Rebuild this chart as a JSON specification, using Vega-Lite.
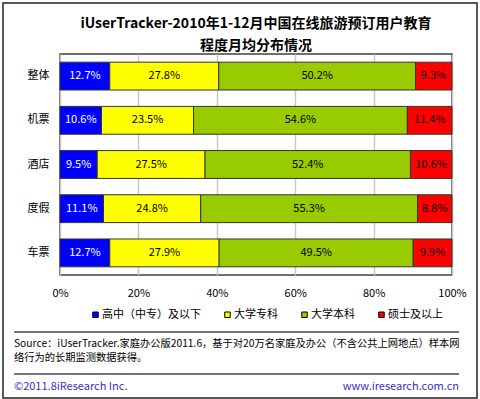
{
  "$schema": "https://vega.github.io/schema/vega-lite/v6.json",
  "padding": {"left": 2, "top": 2, "right": 0, "bottom": 0},
  "columns": 1,
  "bounds": "flush",
  "spacing": 57,
  "resolve": {"scale": {"color": "independent"}, "legend": {"color": "independent"}},
  "config": {
    "font": "Noto Sans CJK SC",
    "view": {"stroke": null}
  },
  "datasets": {
    "edu": [
      {"cat": "整体", "level": "高中（中专）及以下", "rank": 1, "value": 0.127},
      {"cat": "整体", "level": "大学专科", "rank": 2, "value": 0.278},
      {"cat": "整体", "level": "大学本科", "rank": 3, "value": 0.502},
      {"cat": "整体", "level": "硕士及以上", "rank": 4, "value": 0.093},
      {"cat": "机票", "level": "高中（中专）及以下", "rank": 1, "value": 0.106},
      {"cat": "机票", "level": "大学专科", "rank": 2, "value": 0.235},
      {"cat": "机票", "level": "大学本科", "rank": 3, "value": 0.546},
      {"cat": "机票", "level": "硕士及以上", "rank": 4, "value": 0.114},
      {"cat": "酒店", "level": "高中（中专）及以下", "rank": 1, "value": 0.095},
      {"cat": "酒店", "level": "大学专科", "rank": 2, "value": 0.275},
      {"cat": "酒店", "level": "大学本科", "rank": 3, "value": 0.524},
      {"cat": "酒店", "level": "硕士及以上", "rank": 4, "value": 0.106},
      {"cat": "度假", "level": "高中（中专）及以下", "rank": 1, "value": 0.111},
      {"cat": "度假", "level": "大学专科", "rank": 2, "value": 0.248},
      {"cat": "度假", "level": "大学本科", "rank": 3, "value": 0.553},
      {"cat": "度假", "level": "硕士及以上", "rank": 4, "value": 0.088},
      {"cat": "车票", "level": "高中（中专）及以下", "rank": 1, "value": 0.127},
      {"cat": "车票", "level": "大学专科", "rank": 2, "value": 0.279},
      {"cat": "车票", "level": "大学本科", "rank": 3, "value": 0.495},
      {"cat": "车票", "level": "硕士及以上", "rank": 4, "value": 0.099}
    ],
    "foot": [
      {"part": "source", "text": ["Source：iUserTracker.家庭办公版2011.6，基于对20万名家庭及办公（不含公共上网地点）样本网", "络行为的长期监测数据获得。"]},
      {"part": "copyright", "text": "©2011.8iResearch Inc."},
      {"part": "site", "text": "www.iresearch.com.cn"}
    ]
  },
  "concat": [
    {
      "title": {
        "text": ["iUserTracker-2010年1-12月中国在线旅游预订用户教育", "程度月均分布情况"],
        "fontSize": 14,
        "fontWeight": "bold",
        "lineHeight": 22,
        "offset": 1,
        "color": "#000"
      },
      "width": 392,
      "height": 221,
      "view": {"stroke": "#404040", "strokeWidth": 1.5},
      "data": {"name": "edu"},
      "encoding": {
        "y": {
          "field": "cat",
          "type": "nominal",
          "sort": ["整体", "机票", "酒店", "度假", "车票"],
          "scale": {"paddingInner": 0.37, "paddingOuter": 0.185},
          "axis": {"title": null, "ticks": false, "domain": false, "labelFontSize": 11, "labelPadding": 11, "labelColor": "#000"}
        }
      },
      "layer": [
        {
          "mark": {"type": "bar", "stroke": "#333", "strokeWidth": 1},
          "encoding": {
            "x": {
              "field": "value",
              "type": "quantitative",
              "stack": "normalize",
              "scale": {"domain": [0, 1]},
              "axis": {"title": null, "format": "%", "values": [0, 0.2, 0.4, 0.6, 0.8, 1], "ticks": false, "domain": false, "grid": true, "gridColor": "#c8c8c8", "gridWidth": 1.5, "labelFontSize": 11, "labelPadding": 12, "labelColor": "#000", "labelFlush": false}
            },
            "color": {
              "field": "level",
              "type": "nominal",
              "sort": ["高中（中专）及以下", "大学专科", "大学本科", "硕士及以上"],
              "scale": {"domain": ["高中（中专）及以下", "大学专科", "大学本科", "硕士及以上"], "range": ["#0000FF", "#FFFF00", "#99CC00", "#FF0000"]},
              "legend": {"title": null, "orient": "none", "legendX": 30, "legendY": 255, "direction": "horizontal", "symbolType": "square", "symbolSize": 30, "symbolStrokeColor": "#000", "symbolStrokeWidth": 1, "labelFontSize": 11, "labelColor": "#000", "columnPadding": 21, "labelOffset": 1}
            },
            "order": {"field": "rank", "type": "quantitative"}
          }
        },
        {
          "mark": {"type": "text", "fontSize": 11},
          "encoding": {
            "x": {"field": "value", "type": "quantitative", "stack": "normalize", "bandPosition": 0.5},
            "detail": {"field": "level"},
            "order": {"field": "rank", "type": "quantitative"},
            "text": {"field": "value", "type": "quantitative", "format": ".1%"},
            "color": {"condition": {"test": "datum.rank === 1", "value": "#ffffff"}, "value": "#000000"}
          }
        }
      ]
    },
    {
      "width": 399,
      "height": 62,
      "data": {"name": "foot"},
      "layer": [
        {
          "mark": {"type": "rect", "fill": null, "stroke": "#222", "strokeWidth": 1.5},
          "transform": [{"filter": "datum.part === 'site'"}],
          "encoding": {"x": {"value": -57}, "x2": {"value": 417}, "y": {"value": -329}, "y2": {"value": 66}}
        },
        {
          "mark": {"type": "rule", "stroke": "#444", "strokeWidth": 1.5},
          "transform": [{"filter": "datum.part === 'source'"}],
          "encoding": {"x": {"value": -46}, "x2": {"value": "width"}, "y": {"value": 0}}
        },
        {
          "mark": {"type": "rule", "stroke": "#444", "strokeWidth": 1.5},
          "transform": [{"filter": "datum.part === 'copyright'"}],
          "encoding": {"x": {"value": -46}, "x2": {"value": "width"}, "y": {"value": 42}}
        },
        {
          "mark": {"type": "text", "align": "left", "baseline": "middle", "fontSize": 10.25, "lineHeight": 14, "color": "#000"},
          "transform": [{"filter": "datum.part === 'source'"}],
          "encoding": {"x": {"value": -46}, "y": {"value": 12}, "text": {"field": "text"}}
        },
        {
          "mark": {"type": "text", "align": "left", "baseline": "middle", "fontSize": 11, "color": "#3333CC"},
          "transform": [{"filter": "datum.part === 'copyright'"}],
          "encoding": {"x": {"value": -46}, "y": {"value": 55}, "text": {"field": "text"}}
        },
        {
          "mark": {"type": "text", "align": "right", "baseline": "middle", "fontSize": 11, "color": "#3333CC"},
          "transform": [{"filter": "datum.part === 'site'"}],
          "encoding": {"x": {"value": "width"}, "y": {"value": 55}, "text": {"field": "text"}}
        }
      ]
    }
  ]
}
